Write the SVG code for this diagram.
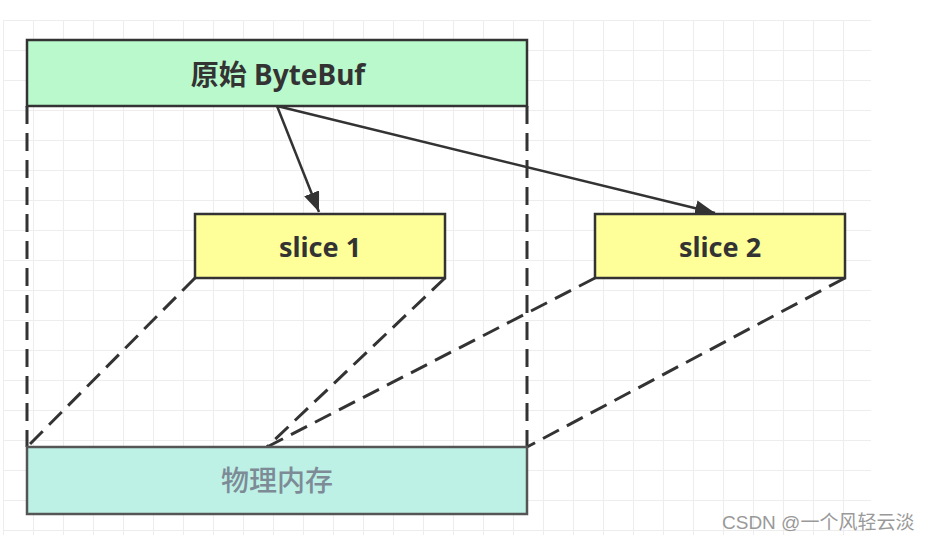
<svg xmlns="http://www.w3.org/2000/svg" width="929" height="546" viewBox="0 0 929 546">
<style>
.box{stroke:#333;stroke-width:2.5}
.lbl{font-family:"Noto Sans","Noto Sans CJK SC",sans-serif;font-weight:bold;font-size:27px;fill:#333;text-anchor:middle;dominant-baseline:central}
.dash{fill:none;stroke:#333;stroke-width:3;stroke-dasharray:18 9}
.arrow{fill:none;stroke:#333;stroke-width:2.5}
</style>
<defs>
<pattern id="grid" patternUnits="userSpaceOnUse" x="3" y="20" width="30" height="30">
<path d="M0 0H30M0 0V30" fill="none" stroke="#EDEDED" stroke-width="2"/>
</pattern>
<marker id="ah" markerUnits="userSpaceOnUse" markerWidth="22" markerHeight="18" refX="20" refY="8" orient="auto">
<path d="M0 0L20 8L0 16Z" fill="#333"/>
</marker>
</defs>
<rect width="929" height="546" fill="#fff"/>
<rect x="3" y="20" width="868" height="515" fill="url(#grid)"/>
<g id="connectors">
<path class="dash" d="M27 106V447"/>
<path class="dash" d="M527 106V447"/>
<path class="dash" d="M195 278L27 447"/>
<path class="dash" d="M445 278L267 447"/>
<path class="dash" d="M595 278L267 447"/>
<path class="dash" d="M845 278L527 447"/>
<path class="arrow" d="M277 106L319 212" marker-end="url(#ah)"/>
<path class="arrow" d="M277 106L715 213" marker-end="url(#ah)"/>
</g>
<g id="bytebuf">
<rect class="box" x="27" y="40" width="500" height="66" fill="#B9F9CC"/>
<text class="lbl" x="278" y="74" style="font-size:28px">原始 ByteBuf</text>
</g>
<g id="slice1">
<rect class="box" x="195" y="214" width="250" height="64" fill="#FFFF99"/>
<text class="lbl" x="320" y="246">slice 1</text>
</g>
<g id="slice2">
<rect class="box" x="595" y="214" width="250" height="64" fill="#FFFF99"/>
<text class="lbl" x="720" y="246">slice 2</text>
</g>
<g id="memory">
<rect x="27" y="447" width="500" height="67" fill="#BDF1E5" stroke="#555" stroke-width="2.5"/>
<text class="lbl" x="277" y="480" style="font-size:28px;font-weight:500;fill:#7D8B97">物理内存</text>
</g>
<text x="722" y="529" font-family="'Liberation Sans','Noto Sans CJK SC',sans-serif" font-size="19" fill="#999">CSDN @一个风轻云淡</text>
</svg>
